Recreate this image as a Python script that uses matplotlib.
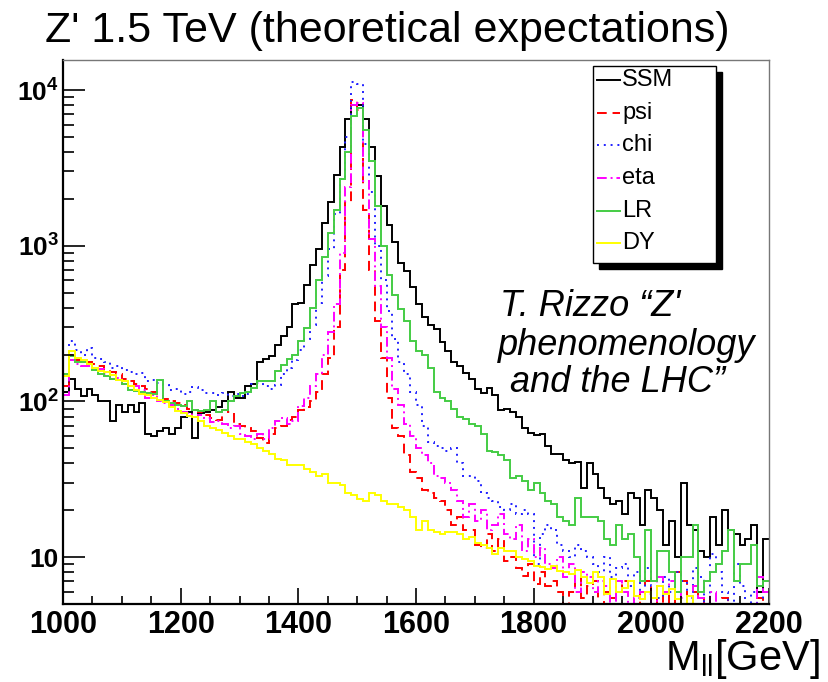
import numpy as np
import matplotlib
matplotlib.use('Agg')
import matplotlib.pyplot as plt
from matplotlib.ticker import MultipleLocator, LogLocator, NullFormatter
from matplotlib.patches import Rectangle
from matplotlib.lines import Line2D

plt.rcParams['font.family'] = ['Liberation Sans', 'DejaVu Sans']

# binning of the histograms (GeV)
m_lo, m_hi, bin_width = 1000, 2200, 10

# events per bin (0 = empty bin)
ssm = [115, 140, 120, 108, 120, 110, 101, 100, 75, 95,
       85, 95, 85, 98, 62, 60, 65, 68, 62, 68,
       80, 85, 58, 84, 86, 88, 92, 100, 115, 105,
       105, 125, 130, 180, 188, 195, 230, 265, 300, 420,
       430, 560, 750, 950, 1400, 1900, 2850, 4300, 6500, 8000,
       8000, 6500, 4300, 2800, 1800, 1350, 1050, 780, 690, 540,
       420, 350, 310, 290, 240, 210, 178, 168, 152, 140,
       120, 114, 122, 110, 88, 90, 85, 80, 68, 63,
       61, 62, 52, 46, 46, 42, 40, 41, 28, 40,
       34, 28, 24, 22, 23, 19, 26, 24, 16, 27,
       24, 20, 12, 17, 10, 30, 16, 15, 11, 10,
       18, 12, 20, 15, 14, 12, 13, 16, 6, 13]

psi = [125, 200, 185, 178, 180, 175, 170, 160, 155, 150,
       140, 135, 130, 125, 120, 115, 108, 104, 100, 98,
       95, 90, 88, 85, 82, 78, 76, 88, 85, 72,
       70, 68, 65, 58, 54, 62, 68, 70, 76, 80,
       88, 92, 100, 115, 150, 190, 300, 700, 1900, 8600,
       7500, 1700, 700, 330, 190, 105, 68, 60, 45, 35,
       32, 27, 26, 24, 23, 20, 16, 18, 15, 15,
       12, 11.5, 14, 11, 13, 9.5, 10, 8.5, 7.6, 9,
       6.7, 8, 6.5, 7, 6, 0, 6, 7.5, 5.5, 6.5,
       7, 0, 6, 5.5, 6, 7, 6.5, 0, 6, 7,
       5.5, 0, 5.8, 0, 8, 7, 0, 6, 5.5, 0,
       0, 0, 5.5, 0, 0, 0, 0, 0, 5.5, 0]

chi = [150, 244, 215, 200, 220, 190, 186, 180, 165, 168,
       160, 155, 150, 152, 135, 138, 132, 128, 119, 120,
       111, 115, 123, 118, 113, 113, 110, 113, 108, 112,
       108, 112, 130, 132, 125, 120, 128, 149, 164, 185,
       215, 250, 310, 430, 640, 950, 1600, 2700, 5000, 11300,
       11000, 4500, 2200, 1000, 600, 380, 250, 180, 150, 115,
       95, 70, 55, 52, 50, 48, 50, 40, 33, 33,
       31, 26, 24, 23, 21, 20, 22, 19, 20, 19,
       9, 14, 16, 15, 12, 11, 10, 12, 11, 10,
       9, 8, 10, 7.5, 8.5, 9, 6.5, 8, 6, 8.5,
       6.5, 5.5, 7.5, 6, 8, 7, 5.5, 8.5, 7.5, 0,
       10.5, 8, 6, 0, 9, 6.5, 0, 6, 0, 6]

eta = [110, 185, 175, 170, 168, 160, 162, 150, 140, 142,
       130, 126, 125, 118, 105, 110, 100, 98, 95, 90,
       86, 84, 80, 82, 78, 74, 75, 72, 68, 70,
       62, 60, 57, 62, 57, 68, 75, 78, 72, 75,
       93, 105, 126, 150, 200, 280, 420, 900, 2400, 8000,
       8200, 2600, 1100, 550, 300, 190, 120, 95, 72, 60,
       50, 45, 40, 33, 32, 30, 27, 23, 18, 22,
       17, 20, 15, 16, 19, 14, 13, 16, 11, 13,
       10, 11.5, 9, 8.5, 10, 7.5, 9, 6, 8, 7.5,
       6, 7, 6.5, 0, 7, 6, 0, 5.5, 6, 5.8,
       0, 7.5, 6, 7, 6, 5.5, 0, 6.5, 5.5, 0,
       6, 0, 0, 0, 0, 0, 0, 0, 7.5, 6]

lr = [150, 195, 180, 178, 175, 160, 150, 145, 140, 138,
      130, 118, 116, 115, 113, 112, 138, 100, 98, 95,
      93, 100, 88, 87, 88, 100, 85, 88, 100, 108,
      113, 115, 122, 135, 136, 135, 156, 172, 186, 200,
      244, 296, 400, 600, 850, 1200, 1700, 2700, 4000, 6800,
      7700, 5500, 3500, 1800, 1000, 650, 480, 390, 330, 244,
      210, 200, 165, 115, 105, 100, 90, 80, 77, 72,
      70, 62, 48, 47, 45, 42, 32, 33, 31, 27,
      30, 26, 23, 22, 18, 17, 16, 24, 18, 18,
      18, 17, 13, 12, 16, 13, 14, 10, 7, 15,
      7, 11, 11, 8, 6, 10, 10, 16, 6, 7,
      8, 9, 11, 15, 7, 9, 9, 12, 6.5, 7]

dy = [145, 210, 190, 185, 173, 165, 156, 154, 148, 138,
      136, 125, 119, 112, 110, 105, 102, 99, 92, 87,
      84, 81, 79, 75, 70, 68, 66, 63, 60, 57,
      57, 55, 53, 50, 48, 46, 43, 42, 39, 39,
      39, 37, 35, 33, 34, 30, 30, 29, 26, 25,
      23.5, 23, 26, 25, 23, 22, 22, 21, 20, 18,
      15, 17, 15, 14.5, 14, 14.5, 14.5, 14, 13, 13.5,
      12.4, 12, 11.5, 10.5, 11.5, 11, 11, 10, 9.7, 9.5,
      8.8, 8.6, 8.4, 8.8, 8.2, 8, 7.8, 8.3, 7.5, 6.8,
      8, 7.5, 5.8, 7.2, 6, 6.3, 7, 5.6, 5.4, 6,
      5.5, 6.5, 5.8, 6.2, 5.4, 0, 5.6, 0, 0, 0,
      0, 0, 0, 0, 0, 0, 0, 0, 0, 0]

names = ['SSM', 'psi', 'chi', 'eta', 'LR', 'DY']
colors = ['black', '#ff0000', '#2020ff', '#ff00ff', '#44cc44', '#ffff00']
styles = ['-', (0, (5, 3)), (0, (1, 2.5)), (0, (5, 2, 1, 2)), '-', '-']

x_ticks = [1000, 1200, 1400, 1600, 1800, 2000, 2200]
y_ticks = [10, 100, 1000, 10000]
y_labels = ['10', r'$\mathdefault{10^{2}}$', r'$\mathdefault{10^{3}}$', r'$\mathdefault{10^{4}}$']
y_min, y_max = 5.0, 1.56e4

W, H = 829, 682
edges = np.arange(m_lo, m_hi + bin_width, bin_width)

fig = plt.figure(figsize=(W / 100, H / 100), dpi=100)
ax = fig.add_axes([63 / W, 1 - 604 / H, 706 / W, 544 / H])

for name, vals, col, ls in zip(names, [ssm, psi, chi, eta, lr, dy], colors, styles):
    v = np.asarray(vals, dtype=float)
    # empty bins are drawn on the lower frame, as ROOT does in log scale
    v = np.where(v > 0, v, y_min)
    ax.stairs(v, edges, baseline=None, color=col, lw=1.4, linestyle=ls, label=name)

ax.set_yscale('log')
ax.set_xlim(m_lo, m_hi)
ax.set_ylim(y_min, y_max)

ax.set_xticks(x_ticks, labels=[str(t) for t in x_ticks], fontsize=22, fontweight='bold')
ax.xaxis.set_minor_locator(MultipleLocator(50))
ax.set_yticks(y_ticks, labels=y_labels, fontsize=19, fontweight='bold')
ax.yaxis.set_minor_locator(LogLocator(base=10, subs=np.arange(2, 10)))
ax.yaxis.set_minor_formatter(NullFormatter())

ax.tick_params(axis='x', which='major', direction='in', length=11.5, width=1.2, pad=4, top=False)
ax.tick_params(axis='x', which='minor', direction='in', length=5.8, width=1.2, top=False)
ax.tick_params(axis='y', which='major', direction='in', length=16, width=1.2, pad=3, right=False)
ax.tick_params(axis='y', which='minor', direction='in', length=8, width=1.2, right=False)

for s in ['left', 'bottom']:
    ax.spines[s].set_linewidth(1.6)
for s in ['top', 'right']:
    ax.spines[s].set_color('#777777')
    ax.spines[s].set_linewidth(1.0)

# ROOT style legend box with a solid shadow
def fx(x):
    return x / W

def fy(y):
    return 1 - y / H

fig.add_artist(Rectangle((fx(599), fy(269)), (716 - 593) / W, (263 - 66) / H,
                         transform=fig.transFigure, facecolor='black', edgecolor='black', zorder=5))
fig.add_artist(Rectangle((fx(593), fy(263)), (716 - 593) / W, (263 - 66) / H,
                         transform=fig.transFigure, facecolor='white', edgecolor='black', lw=1.0, zorder=6))
row_y = [80, 113, 145, 178, 211, 243]
for name, col, ls, ry in zip(names, colors, styles, row_y):
    fig.add_artist(Line2D([fx(597), fx(620)], [fy(ry), fy(ry)], transform=fig.transFigure,
                          color=col, lw=1.4, linestyle=ls, zorder=7))
    fig.text(fx(622), fy(ry), name, fontsize=17, va='center', ha='left', zorder=7)

fig.text(fx(45), fy(42), "Z' 1.5 TeV (theoretical expectations)", fontsize=31, va='baseline', ha='left')
fig.text(fx(820), fy(670), r"M$_{\mathdefault{ll}}$[GeV]", fontsize=30, va='baseline', ha='right')

fig.text(fx(500), fy(316), "T. Rizzo \u201cZ'", fontsize=26, style='italic', va='baseline')
fig.text(fx(498), fy(355), "phenomenology", fontsize=26, style='italic', va='baseline')
fig.text(fx(510), fy(392), "and the LHC\u201d", fontsize=26, style='italic', va='baseline')

fig.savefig('out.png', dpi=100)
